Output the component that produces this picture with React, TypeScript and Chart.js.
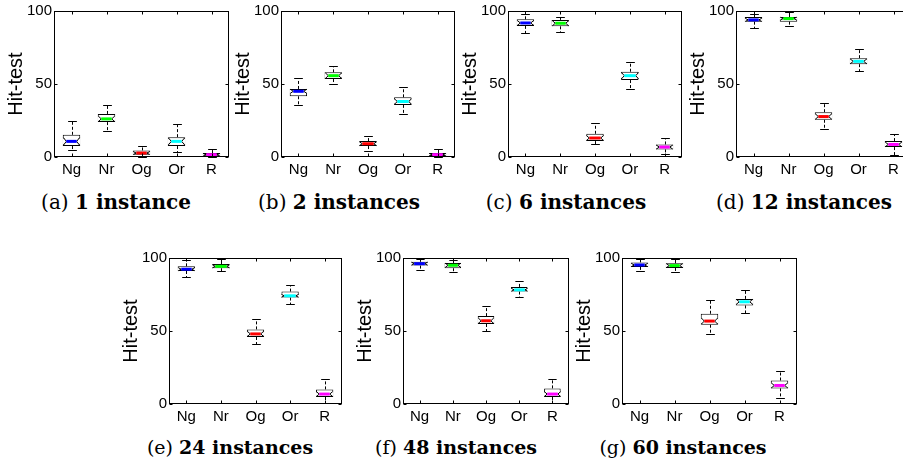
import React, { useEffect, useRef } from "react";
import { Chart, registerables } from "chart.js";

Chart.register(...registerables);

// ---------- data ----------
const categories = ["Ng", "Nr", "Og", "Or", "R"];
const medianColors = ["#0000ff", "#00ff00", "#ff0000", "#00ffff", "#ff00ff"];
const yTicks = [0, 50, 100];
const panelLetters = ["a", "b", "c", "d", "e", "f", "g"];
const instanceCounts = [1, 2, 6, 12, 24, 48, 60];

// each entry: [whiskerLow, q1, median, q3, whiskerHigh] per category
const stats1 = [[4.5, 7.5, 10.7, 15.2, 25], [17.7, 23.9, 26.1, 29.5, 35.7], [0, 1.6, 2.7, 4.5, 7.5], [3.4, 7.5, 10.7, 13.6, 22.5], [0, 0.9, 1.6, 2.7, 5.7]];
const stats2 = [[35.7, 41.6, 45, 46.6, 53.9], [49.8, 53.4, 55.7, 58, 62.5], [4.3, 7.5, 9.1, 10.9, 14.5], [29.5, 35.7, 38, 40.9, 47.7], [0, 0.7, 1.6, 2.7, 5.7]];
const stats6 = [[84.8, 89.8, 91.8, 94.3, 97.7], [85.9, 89.5, 91.6, 93.9, 95.9], [8.6, 10.9, 13, 15.9, 23.4], [46.6, 52.7, 55.7, 58.4, 64.8], [2.3, 5.2, 6.8, 8.6, 13]];
const stats12 = [[88.6, 92.7, 93.9, 95.9, 97.7], [89.8, 92.7, 94.8, 95.9, 99], [19.3, 25.5, 27.7, 30.7, 36.8], [58.6, 63.6, 65.5, 67.7, 73.9], [1.6, 6.8, 8.6, 10.9, 15.9]];
const stats24 = [[87.3, 91.1, 92.3, 94.3, 98.6], [91.4, 93, 94.3, 95.9, 99.3], [40.9, 45.9, 48, 51.1, 58], [68.2, 72.9, 74.1, 77, 81.8], [0.9, 4.8, 6.8, 10, 17]];
const stats48 = [[92, 94.8, 96.1, 97.5, 99.3], [90.2, 93, 95, 96.6, 98.6], [49.8, 54.8, 57, 60.2, 67], [73.2, 77, 78.2, 80.2, 84.1], [0.9, 4.8, 6.8, 10.7, 17]];
const stats60 = [[91.4, 93.9, 95.2, 97, 99.3], [90.2, 93.2, 94.8, 96.4, 99.1], [48.2, 54.3, 56.8, 61.8, 70.9], [62, 67.5, 70, 72, 78.2], [3.9, 10.7, 12.7, 16.1, 22.7]];
const allStats = [stats1, stats2, stats6, stats12, stats24, stats48, stats60];

// ---------- layout ----------
const PLOT_H = 147;
const Y_AXIS_W = 54;
const TOP_PAD = 10;
const X_AXIS_H = 30;
const RIGHT_PAD = 6;
const layouts = [
  { left: 54, top: 10, w: 175, capX: 116, capY: 190, capSize: 20 },
  { left: 281, top: 10, w: 174, capX: 339, capY: 190, capSize: 20 },
  { left: 508, top: 10, w: 174, capX: 566, capY: 190, capSize: 20 },
  { left: 736, top: 10, w: 175, capX: 804, capY: 190, capSize: 20 },
  { left: 169, top: 257, w: 173, capX: 230, capY: 435, capSize: 19 },
  { left: 403, top: 257, w: 166, capX: 456, capY: 435, capSize: 19 },
  { left: 622, top: 257, w: 175, capX: 683, capY: 435, capSize: 19 },
];

const line = (ctx: CanvasRenderingContext2D, x1: number, y1: number, x2: number, y2: number) => {
  ctx.beginPath();
  ctx.moveTo(x1, y1);
  ctx.lineTo(x2, y2);
  ctx.stroke();
};

const boxPlugin = {
  id: "boxWhisker",
  afterDatasetsDraw(chart: any) {
    const ctx: CanvasRenderingContext2D = chart.ctx;
    const ys = chart.scales.y;
    const ds = chart.data.datasets[0];
    const meta = chart.getDatasetMeta(0);
    ctx.save();
    meta.data.forEach((bar: any, i: number) => {
      const [lo, q1, med, q3, hi] = ds.stats[i];
      const cx = Math.round(bar.x) + 0.5;
      const w = bar.width;
      const l = Math.round(bar.x - w / 2) + 0.5;
      const r = Math.round(bar.x + w / 2) - 0.5;
      const pLo = Math.round(ys.getPixelForValue(lo)) + 0.5;
      const pQ1 = ys.getPixelForValue(q1);
      const pMed = ys.getPixelForValue(med);
      const pQ3 = ys.getPixelForValue(q3);
      const pHi = Math.round(ys.getPixelForValue(hi)) + 0.5;
      ctx.strokeStyle = "#000";
      ctx.lineWidth = 1;
      // whiskers
      ctx.setLineDash([3, 2]);
      line(ctx, cx, pQ3, cx, pHi);
      line(ctx, cx, pQ1, cx, pLo);
      ctx.setLineDash([]);
      const cw = w / 4;
      line(ctx, cx - cw, pHi, cx + cw, pHi);
      line(ctx, cx - cw, pLo, cx + cw, pLo);
      // notch
      const nd = Math.max(1, Math.min(pQ1 - pMed, pMed - pQ3) * 0.8);
      const ind = w * 0.16;
      ctx.fillStyle = "#fff";
      ctx.beginPath();
      ctx.moveTo(l - 1, pMed - nd);
      ctx.lineTo(l + ind, pMed);
      ctx.lineTo(l - 1, pMed + nd);
      ctx.closePath();
      ctx.fill();
      ctx.beginPath();
      ctx.moveTo(r + 1, pMed - nd);
      ctx.lineTo(r - ind, pMed);
      ctx.lineTo(r + 1, pMed + nd);
      ctx.closePath();
      ctx.fill();
      ctx.beginPath();
      ctx.moveTo(l, pMed - nd);
      ctx.lineTo(l + ind, pMed);
      ctx.lineTo(l, pMed + nd);
      ctx.moveTo(r, pMed - nd);
      ctx.lineTo(r - ind, pMed);
      ctx.lineTo(r, pMed + nd);
      ctx.stroke();
      // median
      ctx.strokeStyle = ds.medianColors[i];
      ctx.lineWidth = 3;
      line(ctx, l + ind, pMed, r - ind, pMed);
    });
    ctx.restore();
  },
  afterDraw(chart: any) {
    const ctx: CanvasRenderingContext2D = chart.ctx;
    const a = chart.chartArea;
    const ys = chart.scales.y;
    const xs = chart.scales.x;
    const L = Math.round(a.left) + 0.5;
    const R = Math.round(a.right) - 0.5;
    const T = Math.round(a.top) + 0.5;
    const B = Math.round(a.bottom) - 0.5;
    ctx.save();
    ctx.strokeStyle = "#000";
    ctx.lineWidth = 1;
    ctx.strokeRect(L, T, R - L, B - T);
    const tl = 3;
    yTicks.forEach((v) => {
      const p = Math.round(ys.getPixelForValue(v)) + 0.5;
      line(ctx, L, p, L + tl, p);
      line(ctx, R, p, R - tl, p);
    });
    categories.forEach((_, i) => {
      const p = Math.round(xs.getPixelForValue(i)) + 0.5;
      line(ctx, p, B, p, B - tl);
      line(ctx, p, T, p, T + tl);
    });
    ctx.restore();
  },
};

function BoxPanel({ index }: { index: number }) {
  const ref = useRef<HTMLCanvasElement | null>(null);
  const lay = layouts[index];
  const cw = Y_AXIS_W + lay.w + RIGHT_PAD;
  const ch = TOP_PAD + PLOT_H + X_AXIS_H;
  useEffect(() => {
    if (!ref.current) return;
    const stats = allStats[index];
    const chart = new Chart(ref.current, {
      type: "bar",
      data: {
        labels: categories,
        datasets: [
          {
            data: stats.map((s) => [s[1], s[3]]),
            backgroundColor: "#ffffff",
            borderColor: "#000000",
            borderWidth: 1,
            borderSkipped: false,
            barPercentage: 0.5,
            categoryPercentage: 1,
            stats,
            medianColors,
          } as any,
        ],
      },
      options: {
        animation: false,
        responsive: false,
        devicePixelRatio: 1,
        layout: { padding: { top: TOP_PAD, right: RIGHT_PAD, left: 0, bottom: 0 } },
        plugins: { legend: { display: false }, tooltip: { enabled: false } },
        scales: {
          x: {
            grid: { display: false, drawTicks: false },
            border: { display: false },
            ticks: { color: "#000", padding: 4, font: { family: "Liberation Sans", size: 15 } },
            afterFit: (s: any) => {
              s.height = X_AXIS_H;
            },
          },
          y: {
            min: 0,
            max: 100,
            afterBuildTicks: (s: any) => {
              s.ticks = yTicks.map((v) => ({ value: v }));
            },
            grid: { display: false, drawTicks: false },
            border: { display: false },
            ticks: { color: "#000", padding: 2, font: { family: "Liberation Sans", size: 15 } },
            title: {
              display: true,
              text: "Hit-test",
              color: "#000",
              padding: { top: 4, bottom: 0 },
              font: { family: "Liberation Sans", size: 20 },
            },
            afterFit: (s: any) => {
              s.width = Y_AXIS_W;
            },
          },
        },
      } as any,
      plugins: [boxPlugin],
    });
    return () => chart.destroy();
  }, [index]);
  return (
    <canvas
      ref={ref}
      width={cw}
      height={ch}
      style={{ position: "absolute", left: lay.left - Y_AXIS_W, top: lay.top - TOP_PAD, width: cw, height: ch }}
    />
  );
}

function Caption({ index }: { index: number }) {
  const lay = layouts[index];
  const n = instanceCounts[index];
  return (
    <div
      style={{
        position: "absolute",
        left: lay.capX - 150,
        top: lay.capY,
        width: 300,
        textAlign: "center",
        fontFamily: "'DejaVu Serif', serif",
        fontSize: lay.capSize,
        lineHeight: "24px",
        color: "#000",
        whiteSpace: "nowrap",
      }}
    >
      ({panelLetters[index]}) <b>{n} {n === 1 ? "instance" : "instances"}</b>
    </div>
  );
}

export default function App() {
  return (
    <div
      style={{
        position: "absolute",
        left: 0,
        top: 0,
        width: 903,
        height: 465,
        overflow: "hidden",
        background: "#fff",
      }}
    >
      {allStats.map((_, i) => (
        <BoxPanel key={"p" + i} index={i} />
      ))}
      {allStats.map((_, i) => (
        <Caption key={"c" + i} index={i} />
      ))}
    </div>
  );
}
